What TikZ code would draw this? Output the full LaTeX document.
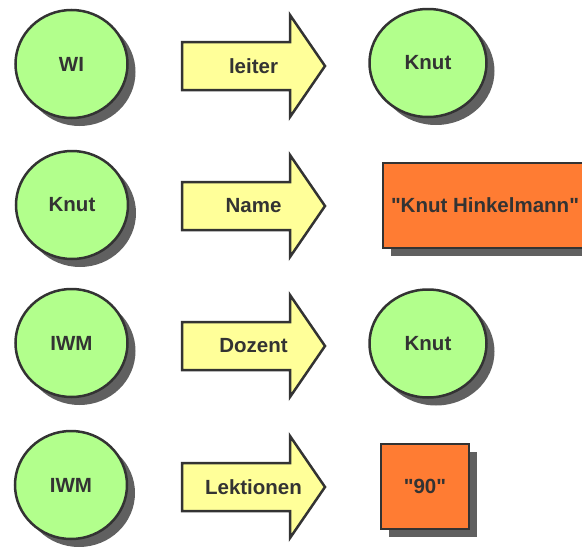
\documentclass[tikz,border=0pt]{standalone}
\usepackage{fontspec}
\setmainfont{Liberation Sans}[Ligatures=TeXOff]
\usetikzlibrary{shapes.geometric,shadows,calc}

\definecolor{nodegreen}{RGB}{178,255,140}
\definecolor{arrowyellow}{RGB}{255,255,153}
\definecolor{valueorange}{RGB}{255,124,51}
\definecolor{edgegray}{RGB}{51,51,51}
\definecolor{shadowgray}{RGB}{96,96,96}

\tikzset{
  labelfont/.style={text=edgegray, font=\bfseries\fontsize{20.5}{24}\selectfont},
  base/.style={labelfont, draw=edgegray, line width=2.5pt, outer sep=0pt, inner sep=0pt,
    drop shadow={shadow xshift=8pt, shadow yshift=-8pt, fill=shadowgray, opacity=1}},
  subject/.style={base, ellipse, fill=nodegreen, minimum width=112pt, minimum height=108pt},
  object/.style={base, ellipse, fill=nodegreen, minimum width=117pt, minimum height=108pt},
  literal/.style={base, rectangle, fill=valueorange},
  predicate/.style={fill=arrowyellow, draw=edgegray, line width=2.5pt, line join=miter},
  predshadow/.style={fill=shadowgray, shift={(8,8)}},
  predlabel/.style={labelfont, inner sep=0pt}
}

% block arrow outline around a centre coordinate
\newcommand\blockarrow[1]{($(#1)+(-71.5,-24)$) -- ($(#1)+(36.5,-24)$) -- ($(#1)+(36.5,-51)$)
  -- ($(#1)+(71.5,0)$) -- ($(#1)+(36.5,51)$) -- ($(#1)+(36.5,24)$) -- ($(#1)+(-71.5,24)$) -- cycle}

\begin{document}
\begin{tikzpicture}[x=1pt,y=-1pt]
\useasboundingbox (0,0) rectangle (582,549);
\clip (0,0) rectangle (582,549);

% subjects
\node[subject] (s1) at (71.5,64)  {WI};
\node[subject] (s2) at (72,205)   {Knut};
\node[subject] (s3) at (71.5,343) {IWM};
\node[subject] (s4) at (71,485)   {IWM};

% predicates
\foreach \i/\y in {1/66,2/206,3/346,4/487}{
  \coordinate (p\i) at (253.5,\y);
  \fill[predshadow] \blockarrow{p\i};
  \draw[predicate] \blockarrow{p\i};
}
\node[predlabel] (l1) at (p1) {leiter};
\node[predlabel] (l2) at (p2) {Name};
\node[predlabel] (l3) at (p3) {Dozent};
\node[predlabel] (l4) at (p4) {Lektionen};

% objects
\node[object] (o1) at (428,63) {Knut};
\node[literal, minimum width=204pt, minimum height=85pt] (o2) at (485,205.5) {"Knut Hinkelmann"};
\node[object] (o3) at (428,343.5) {Knut};
\node[literal, minimum width=88pt, minimum height=85pt] (o4) at (425,486.5) {"90"};
\end{tikzpicture}
\end{document}
